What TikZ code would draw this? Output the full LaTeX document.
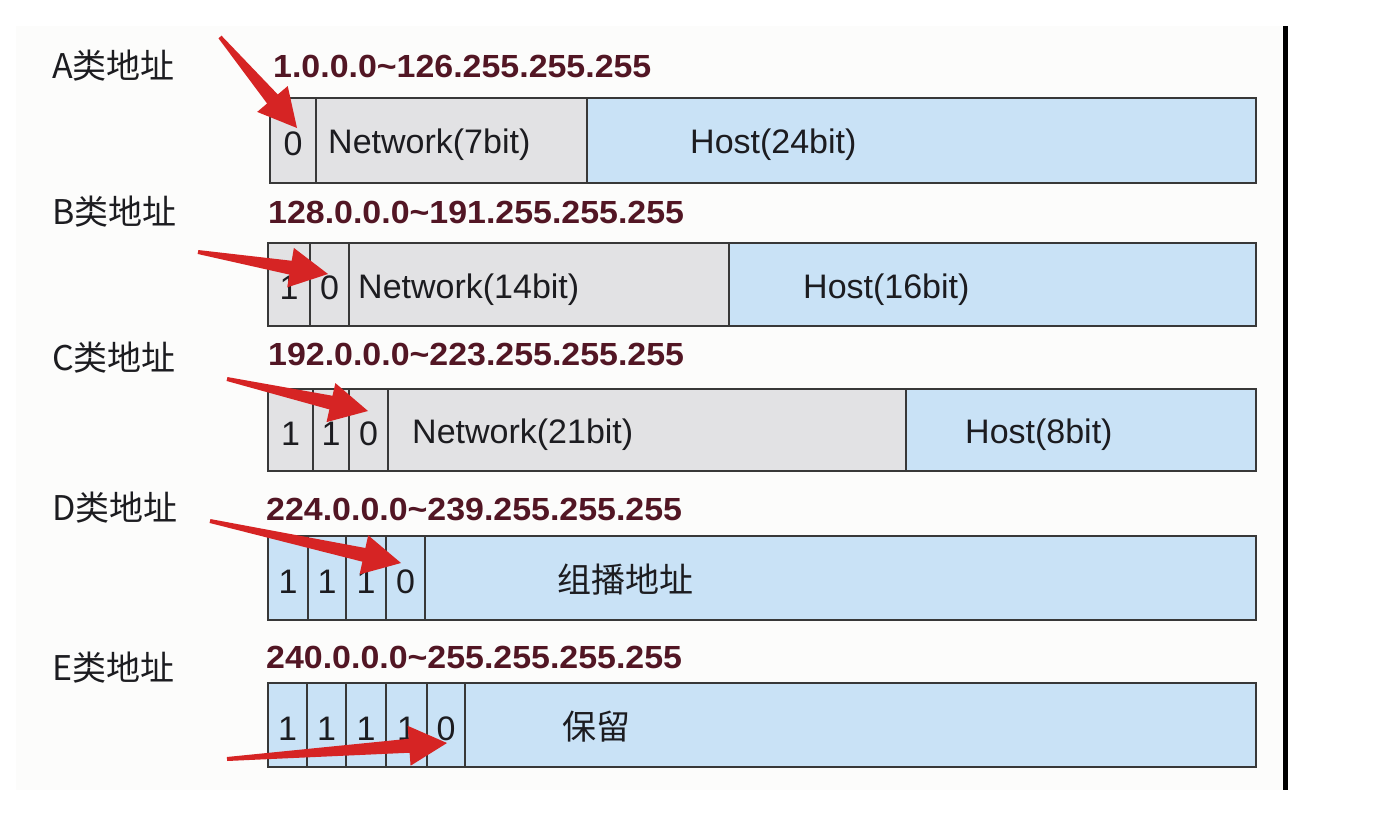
\documentclass[tikz,border=0pt]{standalone}
\usepackage{fontspec}
\setmainfont{Liberation Sans}
\newfontfamily\cjk{Noto Sans CJK SC}
\newfontfamily\rangefont{Liberation Sans Bold}[FakeStretch=1.06]
\usetikzlibrary{calc}
\definecolor{cellgray}{RGB}{226,226,228}
\definecolor{cellblue}{RGB}{201,226,246}
\definecolor{rangered}{RGB}{82,22,36}
\definecolor{arrowred}{RGB}{214,36,36}
\definecolor{txt}{RGB}{28,28,32}
\definecolor{panel}{RGB}{252,252,251}
\tikzset{
  cell/.style={draw=black!78, line width=2pt, inner sep=0pt, outer sep=0pt, anchor=north west,
     font=\fontsize{34}{40}\selectfont, text=txt, text height=30pt, text depth=0pt},
  celltext/.style={font=\fontsize{34}{40}\selectfont, text=txt, inner sep=0pt, anchor=west},
  cjktext/.style={font=\cjk\fontsize{34}{40}\selectfont, text=txt, inner sep=0pt, anchor=west},
  rangetext/.style={font=\rangefont\fontsize{32}{38}\selectfont, text=rangered, inner sep=0pt, anchor=west},
}
% #1 name, #2 x1, #3 x2, #4 y1, #5 y2, #6 fill, #7 text
\newcommand\cellbox[7]{%
  \node[cell, fill=#6, minimum width={(#3-#2)*1pt}, minimum height={(#5-#4)*1pt}] (#1) at (#2,#4) {#7};}
% tapered arrow from coordinate #1 to coordinate #2
\newcommand\redarrow[2]{%
  \fill[arrowred] ($(#1)!2pt!90:(#2)$) -- ($($(#2)!38pt!(#1)$)!7pt!-90:(#1)$)
    -- ($($(#2)!38pt!(#1)$)!20pt!-90:(#1)$) -- (#2)
    -- ($($(#2)!38pt!(#1)$)!20pt!90:(#1)$) -- ($($(#2)!38pt!(#1)$)!7pt!90:(#1)$)
    -- ($(#1)!2pt!-90:(#2)$) -- cycle;}
\begin{document}
\begin{tikzpicture}[x=1pt, y=-1pt]
\useasboundingbox (0,0) rectangle (1390,838);
\fill[white] (0,0) rectangle (1390,838);
\fill[panel] (16,26) rectangle (1282,790);
\fill[black] (1282.5,26) rectangle (1287.5,790);

% Row labels
\node[cjktext] (labA) at (52,66) {A类地址};
\node[cjktext] (labB) at (52,212) {B类地址};
\node[cjktext] (labC) at (52,358) {C类地址};
\node[cjktext] (labD) at (52,508) {D类地址};
\node[cjktext] (labE) at (52,668) {E类地址};

% Ranges
\node[rangetext] (rngA) at (273,66) {1.0.0.0\char"7E 126.255.255.255};
\node[rangetext] (rngB) at (268,212) {128.0.0.0\char"7E 191.255.255.255};
\node[rangetext] (rngC) at (268,355) {192.0.0.0\char"7E 223.255.255.255};
\node[rangetext] (rngD) at (266,510) {224.0.0.0\char"7E 239.255.255.255};
\node[rangetext] (rngE) at (266,657) {240.0.0.0\char"7E 255.255.255.255};

% Row A
\cellbox{a1}{270}{316}{98}{183}{cellgray}{0}
\cellbox{an}{316}{587}{98}{183}{cellgray}{}
\cellbox{ah}{587}{1256}{98}{183}{cellblue}{}
\node[celltext] (anT) at (328,145) {Network(7bit)};
\node[celltext] (ahT) at (690,145) {Host(24bit)};

% Row B
\cellbox{b1}{268}{310}{243}{326}{cellgray}{1}
\cellbox{b2}{310}{349}{243}{326}{cellgray}{0}
\cellbox{bn}{349}{729}{243}{326}{cellgray}{}
\cellbox{bh}{729}{1256}{243}{326}{cellblue}{}
\node[celltext] (bnT) at (358,290) {Network(14bit)};
\node[celltext] (bhT) at (803,290) {Host(16bit)};

% Row C
\cellbox{c1}{268}{313}{389}{471}{cellgray}{1}
\cellbox{c2}{313}{349}{389}{471}{cellgray}{1}
\cellbox{c3}{349}{388}{389}{471}{cellgray}{0}
\cellbox{cn}{388}{906}{389}{471}{cellgray}{}
\cellbox{ch}{906}{1256}{389}{471}{cellblue}{}
\node[celltext] (cnT) at (412,435) {Network(21bit)};
\node[celltext] (chT) at (965,435) {Host(8bit)};

% Row D
\cellbox{d1}{268}{308}{536}{620}{cellblue}{1}
\cellbox{d2}{308}{346}{536}{620}{cellblue}{1}
\cellbox{d3}{346}{386}{536}{620}{cellblue}{1}
\cellbox{d4}{386}{425}{536}{620}{cellblue}{0}
\cellbox{dm}{425}{1256}{536}{620}{cellblue}{}
\node[cjktext] (dmT) at (557,580) {组播地址};

% Row E
\cellbox{e1}{268}{307}{683}{767}{cellblue}{1}
\cellbox{e2}{307}{346}{683}{767}{cellblue}{1}
\cellbox{e3}{346}{386}{683}{767}{cellblue}{1}
\cellbox{e4}{386}{427}{683}{767}{cellblue}{1}
\cellbox{e5}{427}{465}{683}{767}{cellblue}{0}
\cellbox{er}{465}{1256}{683}{767}{cellblue}{}
\node[cjktext] (erT) at (562,727) {保留};

% Arrows
\coordinate (tA) at (220,37);  \coordinate (hA) at (297,128);
\coordinate (tB) at (198,252); \coordinate (hB) at (328,274);
\coordinate (tC) at (227,379); \coordinate (hC) at (368,411);
\coordinate (tD) at (210,521); \coordinate (hD) at (401,563);
\coordinate (tE) at (227,759); \coordinate (hE) at (447,743);
\redarrow{tA}{hA}
\redarrow{tB}{hB}
\redarrow{tC}{hC}
\redarrow{tD}{hD}
\redarrow{tE}{hE}
\end{tikzpicture}
\end{document}
